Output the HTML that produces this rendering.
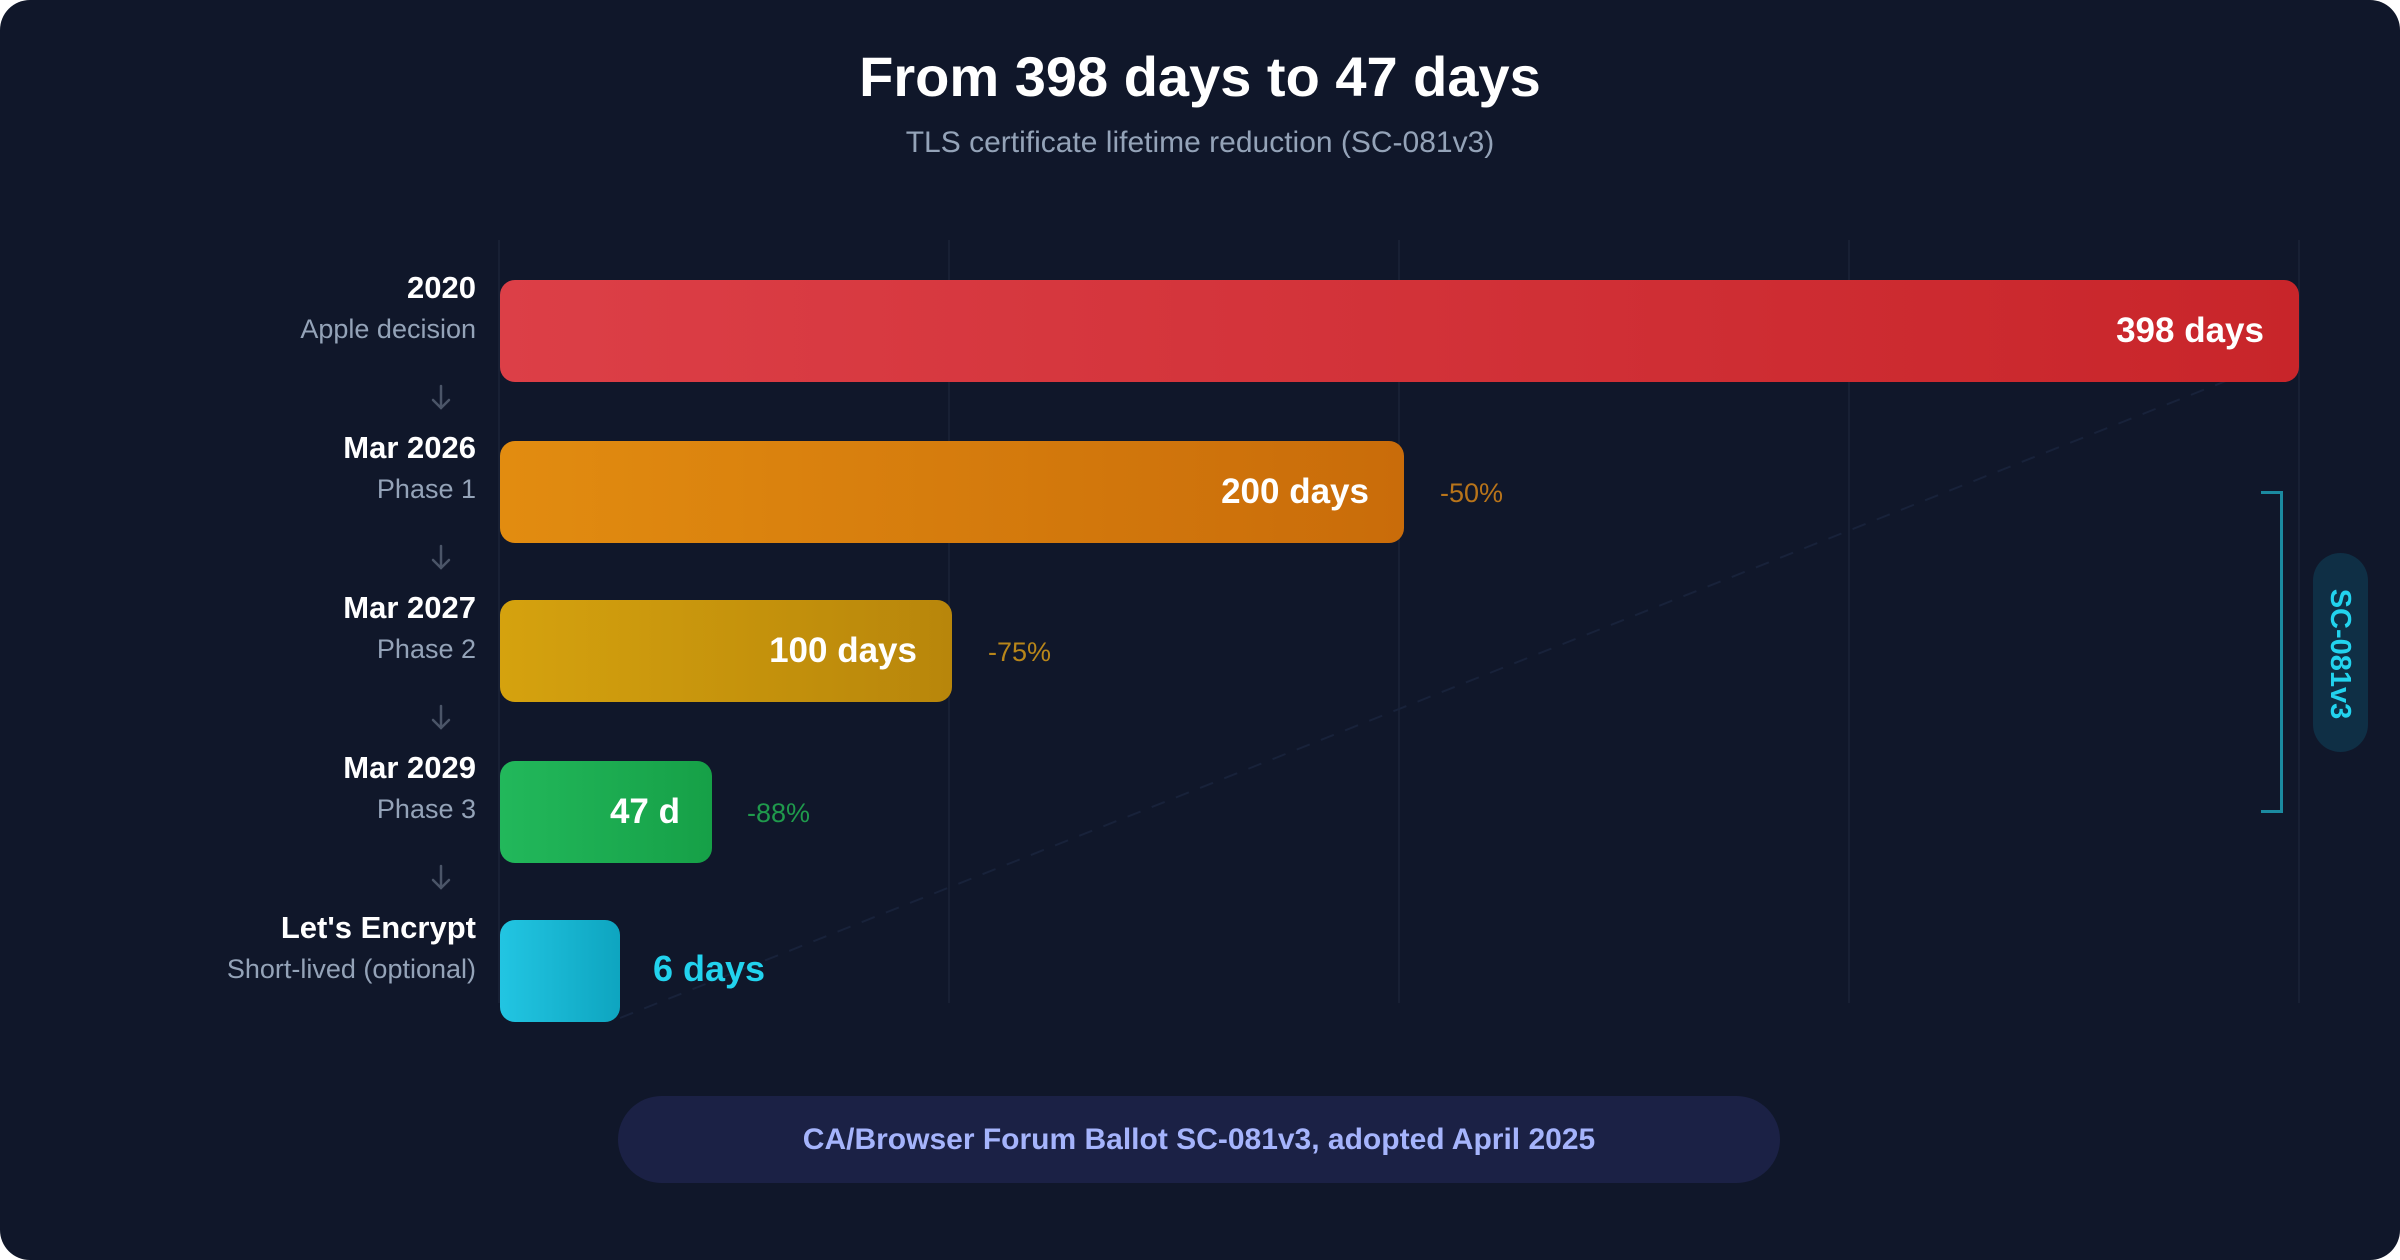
<!DOCTYPE html>
<html><head><meta charset="utf-8"><style>
html,body{margin:0;padding:0;background:#fff;}
body{width:2400px;height:1260px;overflow:hidden;font-family:"Liberation Sans",sans-serif;}
#c{position:absolute;left:0;top:0;width:2400px;height:1260px;background:#10172a;border-radius:30px;overflow:hidden;}
.a{position:absolute;}
.t{left:0;width:2400px;text-align:center;}
.grid{top:240px;height:763px;width:2px;background:#182034;}
.bar{left:500px;height:102px;border-radius:15px;}
.v{color:#fff;font-weight:bold;font-size:35px;line-height:102px;text-align:right;}
.lb{right:1924px;text-align:right;color:#fff;font-weight:bold;font-size:31px;white-space:nowrap;}
.sb{right:1924px;text-align:right;color:#94a3b8;font-size:27px;white-space:nowrap;}
.pc{font-size:27px;}
</style></head><body><div id="c">
<div class="a t" style="top:44px;color:#fff;font-weight:bold;font-size:56px;">From 398 days to 47 days</div>
<div class="a t" style="top:126px;color:#94a3b8;font-size:30px;">TLS certificate lifetime reduction (SC-081v3)</div>

<div class="a grid" style="left:498px"></div>
<div class="a grid" style="left:948px"></div>
<div class="a grid" style="left:1398px"></div>
<div class="a grid" style="left:1848px"></div>
<div class="a grid" style="left:2298px"></div>

<svg class="a" style="left:0;top:0" width="2400" height="1260">
<line x1="620" y1="1018" x2="2299" y2="352" stroke="#18223a" stroke-width="2" stroke-dasharray="14 12"/>
<g stroke="#4b5568" stroke-width="2.5" fill="none" stroke-linecap="round">
<path d="M441 386v22M433 400l8 8 8-8"/>
<path d="M441 546v22M433 560l8 8 8-8"/>
<path d="M441 706v22M433 720l8 8 8-8"/>
<path d="M441 866v22M433 880l8 8 8-8"/>
</g></svg>

<div class="a bar" style="top:280px;width:1799px;background:linear-gradient(90deg,#dc3f47,#c8252a);"></div>
<div class="a v" style="top:280px;left:500px;width:1764px;">398 days</div>
<div class="a bar" style="top:441px;width:904px;background:linear-gradient(90deg,#e28c10,#c96c0a);"></div>
<div class="a v" style="top:441px;left:500px;width:869px;">200 days</div>
<div class="a bar" style="top:600px;width:452px;background:linear-gradient(90deg,#d5a20e,#b8860b);"></div>
<div class="a v" style="top:600px;left:500px;width:417px;">100 days</div>
<div class="a bar" style="top:761px;width:212px;background:linear-gradient(90deg,#22b85b,#16a047);"></div>
<div class="a v" style="top:761px;left:500px;width:180px;">47 d</div>
<div class="a bar" style="top:920px;width:120px;background:linear-gradient(90deg,#22c5e2,#0ea5c0);"></div>
<div class="a" style="left:653px;top:948px;color:#22d3ee;font-weight:bold;font-size:36px;">6 days</div>

<div class="a pc" style="left:1440px;top:478px;color:#b8741a;">-50%</div>
<div class="a pc" style="left:988px;top:637px;color:#b8861a;">-75%</div>
<div class="a pc" style="left:747px;top:798px;color:#1f9a4c;">-88%</div>

<div class="a lb" style="top:270px;">2020</div><div class="a sb" style="top:314px;">Apple decision</div>
<div class="a lb" style="top:430px;">Mar 2026</div><div class="a sb" style="top:474px;">Phase 1</div>
<div class="a lb" style="top:590px;">Mar 2027</div><div class="a sb" style="top:634px;">Phase 2</div>
<div class="a lb" style="top:750px;">Mar 2029</div><div class="a sb" style="top:794px;">Phase 3</div>
<div class="a lb" style="top:910px;">Let's Encrypt</div><div class="a sb" style="top:954px;">Short-lived (optional)</div>

<div class="a" style="left:2261px;top:491px;width:19px;height:316px;border:3px solid #1b8aa0;border-left:none;"></div>
<div class="a" style="left:2313px;top:553px;width:55px;height:199px;border-radius:28px;background:#0f2f45;"></div>
<div class="a" style="left:2240px;top:634px;width:200px;height:40px;text-align:center;transform:rotate(90deg);color:#22d3ee;font-weight:bold;font-size:29px;line-height:40px;">SC-081v3</div>

<div class="a" style="left:618px;top:1096px;width:1162px;height:87px;border-radius:44px;background:#1b2145;color:#a5b4fc;font-size:30px;font-weight:bold;text-align:center;line-height:87px;">CA/Browser Forum Ballot SC-081v3, adopted April 2025</div>
</div></body></html>
